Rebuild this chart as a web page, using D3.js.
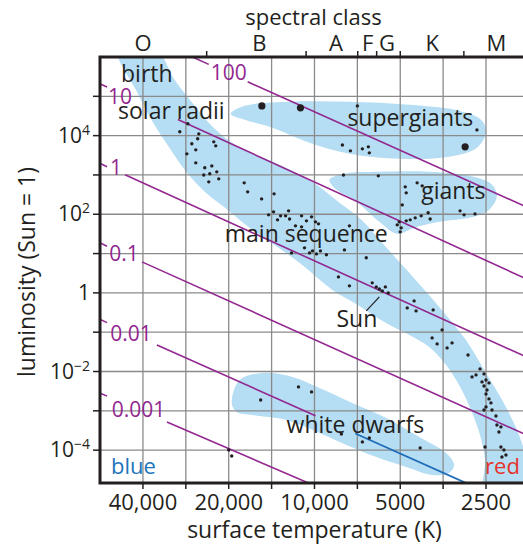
<!DOCTYPE html>
<html><head><meta charset="utf-8">
<script src="https://cdn.jsdelivr.net/npm/d3@7"></script>
<style>
body{margin:0;background:#fff}
svg{display:block}
text{font-family:"Open Sans",sans-serif;fill:#231f20}
</style>
</head><body>
<svg id="c" width="523" height="546"></svg>
<script>
// ---------- data ----------
const tempDomain = [56600, 1854];
const lumDomain = [1.46e-5, 1e6];
const tempGrid = [40000, 28284, 20000, 14142, 10000, 7071, 5000, 3536, 2500];
const tempTickValues = [40000, 20000, 10000, 5000, 2500];
const tempTickLabels = ["40,000", "20,000", "10,000", "5000", "2500"];
const lumGrid = [1e5, 1e4, 1e3, 1e2, 1e1, 1, 1e-1, 1e-2, 1e-3, 1e-4];
const lumTickValues = [1e4, 1e2, 1, 1e-2, 1e-4];
const lumTickBase = ["10", "10", "1", "10", "10"];
const lumTickExp = ["4", "2", "", "\u22122", "\u22124"];
const spectralClasses = ["O", "B", "A", "F", "G", "K", "M"];
const spectralCenters = [40000, 15600, 8400, 6500, 5570, 3860, 2300];
const spectralBounds = [23900, 10700, 7050, 6050, 5000, 2990];

const supergiantStars = [[7070,5.7e4],[2690,1.4e4],[7980,5.8e3],[7480,4.1e3],[6790,4.61e3],[6470,5.19e3],[6420,3.65e3],[7910,1.0e3],[5970,948]];
const brightStars = [[15300,5.7e4],[11200,5.1e4],[2960,5.2e3]];
const mainSequenceStars = [
 [27830,2.0e4],[29700,1.25e4],[25470,1.11e4],[25700,8.3e3],[26950,6.2e3],[26100,4.35e3],[28050,3.44e3],[22570,6.95e3],[22210,5.5e3],
 [26100,2.03e3],[24270,1.52e3],[22930,1.70e3],[22030,1.20e3],[23310,1.07e3],[24470,1.0e3],[21680,796],[23500,667],[17650,629],[17160,372],[15330,246],[13860,330],
 [14490,96.6],[13920,115],[13480,72],[13150,91],[12630,91],[12330,122],[12230,76],[11660,50.7],[11100,47.8],[11100,91],[10670,67.9],[10240,85.9],[9920,64.1],[9680,57.0],[7540,50.7],
 [12040,10.4],[10840,14.0],[10410,10.4],[10160,11.7],[9840,9.8],[9530,11.7],[9080,9.3],[7850,12.4],[6580,7.8],[8240,2.55],[7540,1.51],
 [6270,1.80],[6070,1.42],[5920,1.26],[5780,1.12],[5640,1.42],[5510,1.0],
 [4470,0.626],[4725,0.415],[4400,0.348],[3832,0.369],[3565,0.1145],[3864,0.0716],[3711,0.0504],[3289,0.0534],[3424,0.0399],[2891,0.0264],
 [2624,0.01164],[2799,0.0073],[2710,0.0082],[2541,0.00869],[2582,0.00544],[2500,0.00611],[2441,0.00513],[2541,0.0043],[2480,0.0034],[2500,0.00269],
 [2441,0.00201],[2402,0.00159],[2500,0.00126],[2541,0.00105],[2382,0.00105],[2307,7.4e-4],[2289,4.38e-4],[2216,3.9e-4],[2252,2.9e-4],
 [2520,1.2e-4],[2216,1.2e-4],[2163,1.01e-4],[2128,7.5e-5],[2198,6.7e-5]
];
const giantStars = [[4803,498],[4764,350],[4362,629],[4188,528],[4920,173],[3990,109],[3926,76],[4222,91],[4431,81],[4613,72],[4764,67.9],[5040,64.1],[5123,53.7],[4961,45.1],[5000,35.7],[3083,122],[2985,96.6],[2733,102]];
const whiteDwarfStars = [[11380,0.00406],[10240,0.00303],[15450,0.00189],[6790,1.62e-4],[6420,2.04e-4],[4256,1.14e-4],[8046,2.58e-4],[20000,1.01e-4],[19520,7.1e-5]];

const mainSequenceRegion = [[36000,1.52e6],[31000,2.63e5],[26500,6.08e4],[22600,1.58e4],[18300,4.9e3],[14000,2.15e3],[10200,667],[8170,195],[6850,72],[5830,19.9],[4650,3.23],[3650,0.44],[2940,0.0637],[2500,0.0092],[2128,1.26e-3],[1886,1.82e-4],[1768,3.13e-5],[1712,7.2e-6],
 [2520,7.2e-6],[2520,5.6e-5],[2624,2.44e-4],[2821,1.05e-3],[3108,4.56e-3],[3451,0.0147],[3959,0.0423],[4650,0.0853],[5690,0.183],[6960,0.467],[8650,1.19],[11290,5.8],[13800,16.6],[16890,45.1],[20160,129],[24270,372],[28200,1200],[32300,4900],[37000,2.24e4],[42000,1.3e5],[49000,1.52e6]];
const supergiantRegion = [[19680,3.59e4],[17580,5.73e4],[12230,7.24e4],[7540,7.24e4],[4650,6.08e4],[3108,4.28e4],[2603,2.52e4],[2500,1.25e4],[2689,4.9e3],[3370,2.89e3],[5000,2.57e3],[7540,3.44e3],[10410,6.56e3],[14370,1.67e4],[17580,2.52e4]];
const giantRegion = [[8860,750],[7850,1070],[5920,1200],[3959,1200],[2868,948],[2402,594],[2289,294],[2441,129],[2868,81],[3650,64.1],[4467,45.1],[5123,31.7],[5920,64.1],[7244,232],[8375,418]];
const whiteDwarfRegion = [[19520,1.59e-3],[18300,6.11e-3],[15210,9.2e-3],[11940,7.3e-3],[9600,3.83e-3],[7362,1.59e-3],[5598,6.6e-4],[4290,2.17e-4],[3451,8.5e-5],[3236,4.2e-5],[3370,2.63e-5],[3864,2.34e-5],[4764,3.74e-5],[6067,6.7e-5],[7727,1.36e-4],[9600,2.74e-4],[12530,5.87e-4],[16480,7.87e-4],[18750,9.4e-4]];

const radiusLabels = ["100", "10", "1", "0.1", "0.01", "0.001"];
const radiusAnchors = [
 [[16890,2.22e5],[2252,317]],
 [[30170,2.58e4],[3034,12.7]],
 [[46240,1006],[1871,0.0264]],
 [[40320,6.15],[1871,2.74e-4]],
 [[35730,0.0475],[2938,1.46e-5]],
 [[32960,5.22e-4],[10500,1.46e-5]]
];
const radiusLabelTemp = [20000, 48140, 49720, 46620, 44060, 41480];
const radiusLabelLum = [3.96e5, 1.0e5, 1514, 10.1, 0.093, 1.05e-3];
const radiusSegments = [
 [[60000,23500],[17160,1000]],
 [[60000,53460],[30170,1000]],
 [[60000,53460],[46240,1000]],
 [[60000,53460],[40320,1000]],
 [[60000,53460],[35730,9920]],
 [[60000,53460],[32960,1000]]
];
const blueSegment = {line: 4, from: 7190, to: 1000};

const annotationTexts = ["birth", "solar radii", "supergiants", "giants", "main sequence", "Sun", "white dwarfs"];
const annotationTemp = [47750, 48920, 7665, 4222, 20650, 8375, 12530];
const annotationLum = [2.34e5, 2.67e4, 1.78e4, 246, 19.9, 0.136, 2.74e-4];
const sunPointer = [[6577,0.348],[5920,0.791]];
const endLabels = ["blue", "red"];
const endLabelTemp = [51760, 1901];
const endLabelLum = [2.48e-5, 2.48e-5];

// ---------- drawing ----------
const plot = {left:100, right:523, top:57, bottom:483};
const svg = d3.select("#c");
const x = d3.scaleLog().domain(tempDomain).range([plot.left, plot.right]);
const y = d3.scaleLog().domain(lumDomain).range([plot.bottom, plot.top]);
const PURPLE = "#92278f", INK = "#231f20", BLOB = "#b5ddf3", GRID = "#8a8a8a";

svg.append("rect").attr("width",523).attr("height",546).attr("fill","#fff");
svg.append("defs").append("clipPath").attr("id","clip").append("rect")
  .attr("x",plot.left).attr("y",plot.top).attr("width",plot.right-plot.left+10).attr("height",plot.bottom-plot.top);

const g = svg.append("g").attr("clip-path","url(#clip)");
const blobLine = d3.line().x(d=>x(d[0])).y(d=>y(d[1])).curve(d3.curveCatmullRomClosed.alpha(0.5));
[mainSequenceRegion, supergiantRegion, giantRegion, whiteDwarfRegion].forEach(r=>{
  g.append("path").attr("d",blobLine(r)).attr("fill",BLOB);
});

// grid
g.selectAll(".vg").data(tempGrid).join("line").attr("x1",d=>x(d)).attr("x2",d=>x(d))
  .attr("y1",plot.top).attr("y2",plot.bottom).attr("stroke",GRID).attr("stroke-width",1.3);
g.selectAll(".hg").data(lumGrid).join("line").attr("y1",d=>y(d)).attr("y2",d=>y(d))
  .attr("x1",plot.left).attr("x2",plot.right).attr("stroke",GRID).attr("stroke-width",1.3);

// radius lines
function lumOnLine(i, T){
  const [[t1,l1],[t2,l2]] = radiusAnchors[i];
  const s = (Math.log10(l2)-Math.log10(l1))/(Math.log10(t2)-Math.log10(t1));
  return Math.pow(10, Math.log10(l1) + s*(Math.log10(T)-Math.log10(t1)));
}
const segLine = d3.line().x(d=>x(d[0])).y(d=>y(d[1]));
radiusSegments.forEach((segs,i)=>{
  segs.forEach(([a,b])=>{
    g.append("path").attr("d",segLine([[a,lumOnLine(i,a)],[b,lumOnLine(i,b)]]))
      .attr("stroke",PURPLE).attr("stroke-width",1.6).attr("fill","none");
  });
});
g.append("path").attr("d",segLine([[blueSegment.from,lumOnLine(blueSegment.line,blueSegment.from)],[blueSegment.to,lumOnLine(blueSegment.line,blueSegment.to)]]))
  .attr("stroke","#1f6db8").attr("stroke-width",1.8).attr("fill","none");

// stars
const allSmall = [].concat(supergiantStars, mainSequenceStars, giantStars, whiteDwarfStars);
g.selectAll(".s").data(allSmall).join("circle").attr("cx",d=>x(d[0])).attr("cy",d=>y(d[1])).attr("r",1.7).attr("fill",INK);
g.selectAll(".b").data(brightStars).join("circle").attr("cx",d=>x(d[0])).attr("cy",d=>y(d[1])).attr("r",3.6).attr("fill",INK);

// sun pointer
g.append("path").attr("d",segLine(sunPointer)).attr("stroke",INK).attr("stroke-width",1.2).attr("fill","none");

// radius labels
radiusLabels.forEach((t,i)=>{
  svg.append("text").attr("x",x(radiusLabelTemp[i])).attr("y",y(radiusLabelLum[i])).attr("dy","0.35em")
    .attr("text-anchor","middle").style("fill",PURPLE).style("font-size","21px").text(t);
});

// annotations
annotationTexts.forEach((t,i)=>{
  svg.append("text").attr("x",x(annotationTemp[i])).attr("y",y(annotationLum[i]))
    .style("font-size","23px").text(t);
});
endLabels.forEach((t,i)=>{
  svg.append("text").attr("x",x(endLabelTemp[i])).attr("y",y(endLabelLum[i]))
    .attr("text-anchor", i===0 ? "start" : "end")
    .style("fill", i===0 ? "#1b75bc" : "#e6332a").style("font-size","22px").text(t);
});

// frame
svg.append("path").attr("d",`M${plot.right+5},${plot.top}H${plot.left}V${plot.bottom}H${plot.right+5}`)
  .attr("fill","none").attr("stroke",INK).attr("stroke-width",3);

// bottom axis
svg.selectAll(".bt").data(tempGrid).join("line").attr("x1",d=>x(d)).attr("x2",d=>x(d))
  .attr("y1",plot.bottom).attr("y2",plot.bottom+6).attr("stroke",INK).attr("stroke-width",1.5);
svg.selectAll(".bl").data(tempTickValues).join("text").attr("x",d=>x(d)).attr("y",plot.bottom+27)
  .attr("text-anchor","middle").style("font-size","22px").text((d,i)=>tempTickLabels[i]);
svg.append("text").attr("x",(plot.left+plot.right)/2+3).attr("y",plot.bottom+55).attr("text-anchor","middle")
  .style("font-size","23px").text("surface temperature (K)");

// left axis
svg.selectAll(".lt").data(lumGrid).join("line").attr("y1",d=>y(d)).attr("y2",d=>y(d))
  .attr("x1",plot.left-7).attr("x2",plot.left).attr("stroke",INK).attr("stroke-width",1.5);
lumTickValues.forEach((v,i)=>{
  const t = svg.append("text").attr("x",plot.left-10).attr("y",y(v)+7).attr("text-anchor","end").style("font-size","21px");
  t.append("tspan").text(lumTickBase[i]);
  if (lumTickExp[i]) t.append("tspan").attr("dy",-8).style("font-size","14px").text(lumTickExp[i]);
});
svg.append("text").attr("transform",`translate(27,${(plot.top+plot.bottom)/2+2}) rotate(-90)`)
  .attr("text-anchor","middle").attr("dy","0.35em").style("font-size","23px").text("luminosity (Sun = 1)");

// top axis (spectral class)
svg.selectAll(".tt").data(spectralBounds).join("line").attr("x1",d=>x(d)).attr("x2",d=>x(d))
  .attr("y1",plot.top).attr("y2",plot.top-6).attr("stroke",INK).attr("stroke-width",1.5);
svg.selectAll(".tl").data(spectralClasses).join("text").attr("x",(d,i)=>x(spectralCenters[i])).attr("y",plot.top-6)
  .attr("text-anchor","middle").style("font-size","22px").text(d=>d);
svg.append("text").attr("x",(plot.left+plot.right)/2+2).attr("y",25).attr("text-anchor","middle")
  .style("font-size","22px").text("spectral class");
</script>
</body></html>
